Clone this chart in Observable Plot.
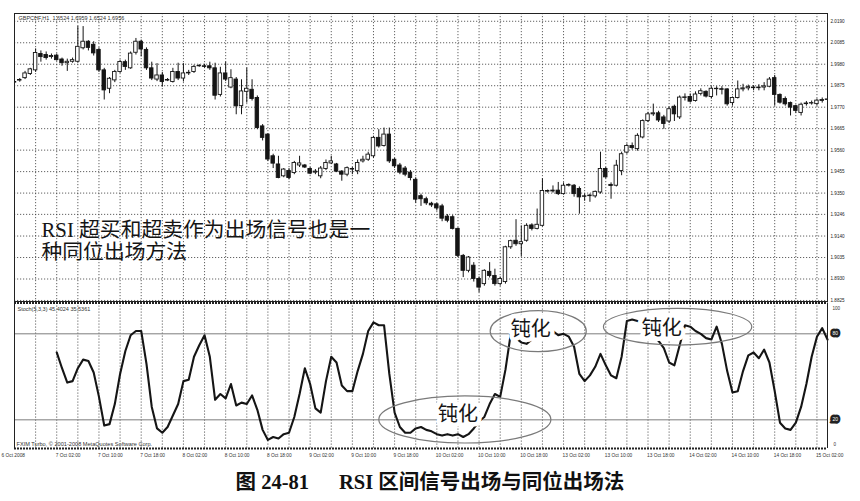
<!DOCTYPE html>
<html>
<head>
<meta charset="utf-8">
<script src="https://cdn.jsdelivr.net/npm/d3@7"></script>
<script src="https://cdn.jsdelivr.net/npm/@observablehq/plot@0.6"></script>
<style>
  body { margin: 0; background: #fff; }
  #wrap { position: relative; width: 860px; height: 501px; background: #fff; overflow: hidden; }
  #price, #stoch { position: absolute; left: 0; }
  #price { top: 0; }
  #stoch { top: 302px; }
  #caption {
    position: absolute; left: 0; top: 470px; width: 860px; text-align: center;
    font-family: "Liberation Serif", "Noto Sans CJK SC", serif; font-weight: bold;
    font-size: 20.5px; line-height: 24px; color: #111;
  }
  #caption .gap { margin-left: 30px; }
</style>
</head>
<body>
<div id="wrap">
  <div id="price"></div>
  <div id="stoch"></div>
  <div id="caption"><span>图 24-81</span><span class="gap">RSI 区间信号出场与同位出场法</span></div>
</div>
<script>
// GBPCHF H1 candles, bar 0 = 7 Oct 02:00; first visible bar is -8.
const FIRST_BAR = -8;

const opens = [
  1.9893, 1.9900, 1.9912, 1.9932, 1.9950, 2.0030, 2.0025, 2.0015,
  2.0022, 2.0003, 1.9985, 1.9992, 1.9992, 2.0058, 2.0090, 2.0075, 2.0050, 1.9950,
  1.9860, 1.9901, 1.9942, 1.9990, 1.9960, 2.0036, 2.0090, 2.0050, 1.9960, 1.9905,
  1.9925, 1.9900, 1.9893, 1.9942, 1.9910, 1.9935, 1.9942, 1.9970, 1.9970, 1.9970,
  1.9960, 1.9830, 1.9935, 1.9866, 1.9905, 1.9775, 1.9845, 1.9855, 1.9815, 1.9676,
  1.9636, 1.9530, 1.9490, 1.9432, 1.9458, 1.9448, 1.9485, 1.9485, 1.9468, 1.9450,
  1.9432, 1.9468, 1.9495, 1.9490, 1.9455, 1.9440, 1.9468, 1.9457, 1.9505, 1.9513,
  1.9530, 1.9620, 1.9580, 1.9636, 1.9513, 1.9485, 1.9470, 1.9450, 1.9415, 1.9335,
  1.9320, 1.9298, 1.9295, 1.9285, 1.9235, 1.9232, 1.9175, 1.9043, 1.8970, 1.8995,
  1.8930, 1.8905, 1.8965, 1.8945, 1.8905, 1.8915, 1.9085, 1.9117, 1.9100, 1.9117,
  1.9192, 1.9175, 1.9190, 1.9357, 1.9358, 1.9362, 1.9345, 1.9386, 1.9386, 1.9370,
  1.9334, 1.9335, 1.9334, 1.9353, 1.9468, 1.9390, 1.9386, 1.9458, 1.9548, 1.9580,
  1.9565, 1.9622, 1.9702, 1.9735, 1.9740, 1.9720, 1.9700, 1.9772, 1.9720, 1.9815,
  1.9820, 1.9800, 1.9835, 1.9845, 1.9820, 1.9860, 1.9858, 1.9857, 1.9790, 1.9815,
  1.9857, 1.9862, 1.9866, 1.9863, 1.9866, 1.9870, 1.9912, 1.9830, 1.9810, 1.9790,
  1.9775, 1.9742, 1.9785, 1.9788, 1.9785, 1.9800, 1.9805
];
const highs = [
  1.9905, 1.9910, 1.9945, 1.9960, 2.0055, 2.0045, 2.0040, 2.0030,
  2.0030, 2.0010, 2.0005, 2.0010, 2.0165, 2.0164, 2.0095, 2.0090, 2.0060, 1.9960,
  1.9915, 1.9950, 2.0000, 2.0000, 2.0040, 2.0106, 2.0098, 2.0060, 1.9990, 1.9983,
  1.9940, 1.9910, 1.9960, 1.9985, 1.9983, 1.9950, 1.9975, 1.9978, 1.9980, 1.9990,
  1.9985, 1.9965, 1.9990, 1.9953, 1.9915, 1.9904, 1.9961, 1.9904, 1.9825, 1.9685,
  1.9640, 1.9540, 1.9530, 1.9470, 1.9470, 1.9505, 1.9530, 1.9490, 1.9475, 1.9465,
  1.9480, 1.9512, 1.9530, 1.9495, 1.9460, 1.9478, 1.9475, 1.9512, 1.9530, 1.9550,
  1.9628, 1.9660, 1.9668, 1.9668, 1.9520, 1.9495, 1.9480, 1.9460, 1.9425, 1.9345,
  1.9330, 1.9305, 1.9300, 1.9295, 1.9245, 1.9240, 1.9180, 1.9050, 1.9040, 1.9010,
  1.8940, 1.8975, 1.9010, 1.8978, 1.8940, 1.9090, 1.9120, 1.9220, 1.9190, 1.9200,
  1.9200, 1.9272, 1.9420, 1.9365, 1.9385, 1.9402, 1.9400, 1.9395, 1.9392, 1.9380,
  1.9345, 1.9345, 1.9360, 1.9550, 1.9475, 1.9400, 1.9510, 1.9550, 1.9590, 1.9595,
  1.9640, 1.9708, 1.9745, 1.9785, 1.9750, 1.9730, 1.9770, 1.9780, 1.9825, 1.9835,
  1.9835, 1.9845, 1.9860, 1.9850, 1.9870, 1.9870, 1.9870, 1.9860, 1.9820, 1.9898,
  1.9882, 1.9878, 1.9875, 1.9880, 1.9890, 1.9915, 1.9925, 1.9835, 1.9820, 1.9795,
  1.9780, 1.9790, 1.9798, 1.9800, 1.9810, 1.9815, 1.9815
];
const lows = [
  1.9880, 1.9892, 1.9905, 1.9925, 1.9940, 1.9990, 2.0000, 2.0005,
  1.9995, 1.9970, 1.9945, 1.9985, 1.9985, 2.0050, 2.0045, 2.0020, 1.9940, 1.9805,
  1.9836, 1.9890, 1.9935, 1.9950, 1.9955, 2.0025, 2.0016, 1.9950, 1.9900, 1.9895,
  1.9868, 1.9895, 1.9888, 1.9900, 1.9893, 1.9925, 1.9935, 1.9965, 1.9960, 1.9950,
  1.9805, 1.9820, 1.9895, 1.9860, 1.9733, 1.9733, 1.9790, 1.9800, 1.9660, 1.9605,
  1.9505, 1.9470, 1.9420, 1.9425, 1.9415, 1.9440, 1.9475, 1.9470, 1.9440, 1.9440,
  1.9420, 1.9460, 1.9490, 1.9450, 1.9408, 1.9430, 1.9440, 1.9440, 1.9497, 1.9505,
  1.9520, 1.9570, 1.9575, 1.9495, 1.9470, 1.9440, 1.9430, 1.9410, 1.9300, 1.9285,
  1.9290, 1.9280, 1.9262, 1.9210, 1.9205, 1.9170, 1.9035, 1.8937, 1.8960, 1.8915,
  1.8863, 1.8895, 1.8935, 1.8895, 1.8895, 1.8905, 1.9075, 1.9090, 1.9040, 1.9110,
  1.9165, 1.9170, 1.9185, 1.9350, 1.9350, 1.9338, 1.9340, 1.9380, 1.9330, 1.9247,
  1.9310, 1.9305, 1.9325, 1.9345, 1.9420, 1.9320, 1.9380, 1.9435, 1.9540, 1.9560,
  1.9555, 1.9615, 1.9695, 1.9725, 1.9695, 1.9662, 1.9690, 1.9700, 1.9710, 1.9800,
  1.9790, 1.9795, 1.9825, 1.9815, 1.9810, 1.9825, 1.9830, 1.9775, 1.9775, 1.9810,
  1.9845, 1.9850, 1.9850, 1.9850, 1.9850, 1.9865, 1.9775, 1.9785, 1.9775, 1.9727,
  1.9740, 1.9727, 1.9775, 1.9780, 1.9775, 1.9790, 1.9798
];
const closes = [
  1.9890, 1.9903, 1.9935, 1.9955, 2.0035, 2.0015, 2.0010, 2.0020,
  2.0000, 1.9985, 1.9992, 2.0000, 2.0065, 2.0090, 2.0060, 2.0033, 1.9950, 1.9852,
  1.9909, 1.9942, 1.9991, 1.9967, 2.0032, 2.0090, 2.0052, 1.9960, 1.9910, 1.9925,
  1.9893, 1.9903, 1.9942, 1.9910, 1.9935, 1.9938, 1.9967, 1.9972, 1.9967, 1.9960,
  1.9826, 1.9935, 1.9905, 1.9912, 1.9774, 1.9847, 1.9860, 1.9810, 1.9668, 1.9620,
  1.9514, 1.9494, 1.9424, 1.9465, 1.9424, 1.9497, 1.9495, 1.9475, 1.9445, 1.9455,
  1.9470, 1.9497, 1.9505, 1.9455, 1.9440, 1.9472, 1.9465, 1.9497, 1.9513, 1.9538,
  1.9620, 1.9578, 1.9636, 1.9505, 1.9481, 1.9450, 1.9440, 1.9424, 1.9318, 1.9320,
  1.9300, 1.9290, 1.9275, 1.9225, 1.9215, 1.9175, 1.9043, 1.8970, 1.9035, 1.8930,
  1.8888, 1.8970, 1.8945, 1.8905, 1.8930, 1.9085, 1.9115, 1.9100, 1.9110, 1.9190,
  1.9175, 1.9195, 1.9360, 1.9360, 1.9362, 1.9345, 1.9386, 1.9390, 1.9345, 1.9329,
  1.9332, 1.9338, 1.9356, 1.9468, 1.9427, 1.9385, 1.9484, 1.9540, 1.9580, 1.9570,
  1.9630, 1.9702, 1.9735, 1.9740, 1.9705, 1.9688, 1.9760, 1.9735, 1.9817, 1.9818,
  1.9797, 1.9832, 1.9848, 1.9822, 1.9860, 1.9858, 1.9855, 1.9784, 1.9815, 1.9857,
  1.9862, 1.9868, 1.9863, 1.9866, 1.9872, 1.9905, 1.9830, 1.9792, 1.9784, 1.9768,
  1.9752, 1.9782, 1.9788, 1.9790, 1.9802, 1.9805, 1.9808
];

// Stoch(5,3,3) main line, one value per bar starting at bar 0
const stochK = [
  67, 56, 46, 47, 56, 62, 61, 53, 36, 16,
  17, 31, 52, 68, 79, 82, 82, 59, 29, 14,
  11, 15, 23, 31, 47, 48, 64, 72, 79, 64,
  34, 38, 35, 45, 30, 32, 31, 37, 27, 13,
  6, 8, 7, 10, 11, 22, 38, 56, 45, 28,
  25, 47, 64, 60, 44, 40, 40, 54, 66, 82,
  88, 86, 86, 52, 25, 15, 11, 11, 14, 15,
  13, 12, 10, 9, 10, 9, 10, 8, 10, 14,
  19, 22, 31, 38, 36, 55, 80, 77, 74, 73,
  76, 79, 81, 82, 82, 79, 80, 78, 71, 52,
  47, 51, 57, 66, 58, 51, 49, 64, 89, 90,
  89, 87, 83, 79, 75, 70, 60, 58, 72, 86,
  85, 82, 80, 77, 76, 85, 73, 54, 39, 40,
  54, 65, 67, 63, 69, 60, 40, 18, 14, 13,
  18, 29, 45, 64, 78, 84, 76
];

const priceTickLabels = [
  "2.0190", "2.0085", "1.9980", "1.9875", "1.9770", "1.9665", "1.9560",
  "1.9455", "1.9350", "1.9246", "1.9140", "1.9035", "1.8930", "1.8825"
];
const firstDateLabel = "6 Oct 2008";
const dateTickLabels = [
  "7 Oct 02:00", "7 Oct 10:00", "7 Oct 18:00", "8 Oct 02:00", "8 Oct 10:00",
  "8 Oct 18:00", "9 Oct 02:00", "9 Oct 10:00", "9 Oct 18:00", "10 Oct 02:00",
  "10 Oct 10:00", "10 Oct 18:00", "13 Oct 02:00", "13 Oct 10:00", "13 Oct 18:00",
  "14 Oct 02:00", "14 Oct 10:00", "14 Oct 18:00", "15 Oct 02:00"
];
const stochLevels = [80, 20];

// "钝化" call-outs: centre bar / stoch value of label and ellipse
const bluntText = "钝化";
const bluntBar = [76, 89.8, 114.6];
const bluntValue = [23.5, 83, 83.7];
const ringBar = [77.4, 91.3, 117.7];
const ringValue = [19.9, 81.5, 84.6];
const ringHalfBars = [16.3, 9.1, 14.05];
const ringHalfValue = [16.4, 14.3, 12.8];

const headerText = "GBPCHF,H1  1.6524 1.6959 1.6524 1.6956";
const stochHeader = "Stoch(5,3,3) 45.4024 35.5361";
const footerText = "FXIM Turbo, © 2001-2008 MetaQuotes Software Corp.";
const noteText = "RSI 超买和超卖作为出场信号也是一\n种同位出场方法";

const candles = opens.map((o, k) => ({
  i: FIRST_BAR + k, o, h: highs[k], l: lows[k], c: closes[k], up: closes[k] >= o
}));
const priceTicks = priceTickLabels.map(Number);
const gridBars = d3.range(-4, 147, 4);
const X_DOMAIN = [-8, 146];
const INK = "#151515";
const GRID = { stroke: "#3a3a3a", strokeWidth: 0.8, strokeDasharray: "1.2,1.8" };
const CJK = "'Liberation Serif', 'Noto Sans CJK SC', serif";
const TINY = "'Liberation Sans Narrow', 'Liberation Sans', sans-serif";

const pricePlot = Plot.plot({
  width: 860, height: 302,
  marginLeft: 14, marginRight: 33, marginTop: 13, marginBottom: 1,
  style: { fontFamily: TINY, fontSize: "4.6px", color: "#222", background: "transparent", overflow: "visible" },
  x: { domain: X_DOMAIN, axis: null },
  y: {
    domain: [1.8820, 2.0228], axis: "right", ticks: priceTicks, tickFormat: ".4f",
    tickSize: 0, tickPadding: 3, label: null
  },
  marks: [
    Plot.ruleX(gridBars, GRID),
    Plot.ruleY(priceTicks, GRID),
    Plot.ruleX(candles, { x: "i", y1: "l", y2: "h", stroke: INK, strokeWidth: 1, clip: true }),
    Plot.rect(candles, {
      x1: (d) => d.i - 0.33, x2: (d) => d.i + 0.33, y1: "o", y2: "c",
      fill: (d) => (d.up ? "white" : INK), stroke: INK, strokeWidth: 0.9, clip: true
    }),
    Plot.frame({ stroke: "#222", strokeWidth: 1 }),
    Plot.text([headerText], {
      frameAnchor: "top-left", dx: 4, dy: 4.5, lineAnchor: "middle",
      fontSize: 5.5, fontFamily: TINY, fill: "#333"
    }),
    Plot.text([noteText], {
      frameAnchor: "top-left", dx: 27, dy: 207.5, lineAnchor: "top", lineHeight: 1.07,
      textAnchor: "start", fontSize: 20.8, fontFamily: CJK, fill: INK
    })
  ]
});

const rings = (index, { x, y }) => {
  const g = d3.create("svg:g").attr("fill", "none").attr("stroke", "#7a7a7a").attr("stroke-width", 1.2);
  ringBar.forEach((b, k) => {
    g.append("ellipse")
      .attr("cx", x(b)).attr("cy", y(ringValue[k]))
      .attr("rx", x(b + ringHalfBars[k]) - x(b))
      .attr("ry", y(ringValue[k] - ringHalfValue[k]) - y(ringValue[k]));
  });
  return g.node();
};

const stochPlot = Plot.plot({
  width: 860, height: 160,
  marginLeft: 14, marginRight: 33, marginTop: 0.5, marginBottom: 14,
  style: { fontFamily: TINY, fontSize: "4.6px", color: "#222", background: "transparent", overflow: "visible" },
  x: { domain: X_DOMAIN, axis: null },
  y: { domain: [0, 101.5], axis: null },
  marks: [
    Plot.ruleX(gridBars, GRID),
    Plot.ruleY(stochLevels, { stroke: "#7d7d7d", strokeWidth: 1 }),
    Plot.line(stochK, { x: (d, k) => k, y: (d) => d, stroke: INK, strokeWidth: 2.1, strokeLinejoin: "round" }),
    rings,
    Plot.text(bluntBar, {
      x: (d) => d, y: (d, k) => bluntValue[k], text: () => bluntText,
      fontSize: 20, fontFamily: CJK, fill: INK,
      stroke: "white", strokeWidth: 9, strokeLinejoin: "round"
    }),
    Plot.ruleX(X_DOMAIN, { stroke: "#222", strokeWidth: 1 }),
    Plot.ruleY([0, 101.5], { stroke: "#222", strokeWidth: 2, strokeDasharray: "2,1" }),
    Plot.text([stochHeader], {
      frameAnchor: "top-left", dx: 3, dy: 6.5, lineAnchor: "middle",
      fontSize: 5.5, fontFamily: TINY, fill: "#333"
    }),
    Plot.text([footerText], {
      frameAnchor: "bottom-left", dx: 2, dy: -4.5, lineAnchor: "middle",
      fontSize: 5.6, fontFamily: TINY, fill: "#333"
    }),
    Plot.text(["100"], { frameAnchor: "right", y: () => 100, dx: 5, dy: 3.5, textAnchor: "start", fontSize: 4.6, fill: "#333" }),
    Plot.text(["0"], { frameAnchor: "right", y: () => 0, dx: 6, dy: -4, textAnchor: "start", fontSize: 4.6, fill: "#333" }),
    Plot.text(stochLevels, {
      frameAnchor: "right", y: (d) => d, text: (d) => String(d), dx: 5, textAnchor: "start",
      fontSize: 5, fill: "white", stroke: "#222", strokeWidth: 5, strokeLinejoin: "miter"
    }),
    Plot.text(dateTickLabels, {
      x: (d, k) => k * 8, text: (d) => d, frameAnchor: "bottom", dy: 7, dx: -1,
      textAnchor: "start", lineAnchor: "middle", fontSize: 4.8, fontFamily: TINY, fill: "#333"
    }),
    Plot.text([firstDateLabel], {
      x: () => X_DOMAIN[0], frameAnchor: "bottom", dy: 7, dx: -13,
      textAnchor: "start", lineAnchor: "middle", fontSize: 4.8, fontFamily: TINY, fill: "#333"
    })
  ]
});

document.getElementById("price").appendChild(pricePlot);
document.getElementById("stoch").appendChild(stochPlot);
</script>
</body>
</html>
